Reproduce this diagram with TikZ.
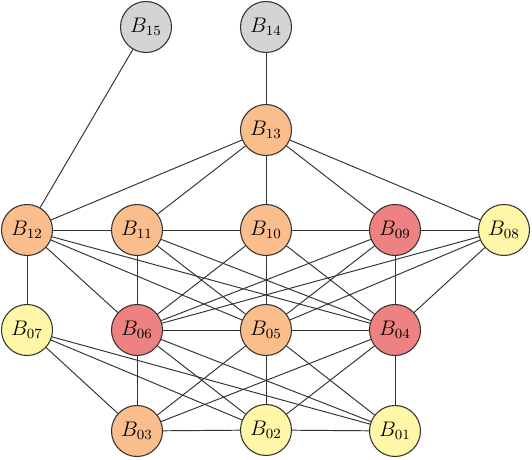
\documentclass[tikz,border=0pt]{standalone}
\usepackage{amsmath}
\usepackage{xcolor}
\usepackage{tikz}

\definecolor{peach}{RGB}{249,190,140}
\definecolor{rose}{RGB}{238,130,130}
\definecolor{cream}{RGB}{255,246,168}
\definecolor{ash}{RGB}{212,212,212}

\begin{document}
\begin{tikzpicture}[
        bus/.style={circle, draw=black!80, line width=0.6pt, minimum size=1.02cm, inner sep=0pt, font=\large},
        link/.style={draw=black!80, line width=0.55pt}
    ]
        \useasboundingbox (0,0) rectangle (10.64,9.2);

        \node[bus, fill=ash] (b15) at (2.92,8.66) {$B_{15}$};
        \node[bus, fill=ash] (b14) at (5.32,8.66) {$B_{14}$};

        \node[bus, fill=peach] (b13) at (5.32,6.6) {$B_{13}$};

        \node[bus, fill=peach] (b12) at (0.54,4.6) {$B_{12}$};
        \node[bus, fill=peach] (b11) at (2.74,4.6) {$B_{11}$};
        \node[bus, fill=peach] (b10) at (5.32,4.6) {$B_{10}$};
        \node[bus, fill=rose] (b09) at (7.9,4.6) {$B_{09}$};
        \node[bus, fill=cream] (b08) at (10.08,4.6) {$B_{08}$};

        \node[bus, fill=cream] (b07) at (0.54,2.6) {$B_{07}$};
        \node[bus, fill=rose] (b06) at (2.74,2.6) {$B_{06}$};
        \node[bus, fill=peach] (b05) at (5.32,2.6) {$B_{05}$};
        \node[bus, fill=rose] (b04) at (7.9,2.6) {$B_{04}$};

        \node[bus, fill=peach] (b03) at (2.74,0.58) {$B_{03}$};
        \node[bus, fill=cream] (b02) at (5.32,0.6) {$B_{02}$};
        \node[bus, fill=cream] (b01) at (7.9,0.58) {$B_{01}$};

        % top
        \draw[link] (b15) -- (b12);
        \draw[link] (b14) -- (b13);
        \draw[link] (b13) -- (b12);
        \draw[link] (b13) -- (b11);
        \draw[link] (b13) -- (b10);
        \draw[link] (b13) -- (b09);
        \draw[link] (b13) -- (b08);

        % second row
        \draw[link] (b12) -- (b11);
        \draw[link] (b11) -- (b10);
        \draw[link] (b10) -- (b09);
        \draw[link] (b09) -- (b08);

        \draw[link] (b12) -- (b07);
        \draw[link] (b12) -- (b06);
        \draw[link] (b12) -- (b05);
        \draw[link] (b12) -- (b04);
        \draw[link] (b11) -- (b06);
        \draw[link] (b11) -- (b05);
        \draw[link] (b11) -- (b04);
        \draw[link] (b10) -- (b06);
        \draw[link] (b10) -- (b05);
        \draw[link] (b10) -- (b04);
        \draw[link] (b09) -- (b06);
        \draw[link] (b09) -- (b05);
        \draw[link] (b09) -- (b04);
        \draw[link] (b08) -- (b06);
        \draw[link] (b08) -- (b05);
        \draw[link] (b08) -- (b04);

        % third row
        \draw[link] (b06) -- (b05);
        \draw[link] (b05) -- (b04);

        \draw[link] (b07) -- (b03);
        \draw[link] (b07) -- (b02);
        \draw[link] (b07) -- (b01);
        \draw[link] (b06) -- (b03);
        \draw[link] (b06) -- (b02);
        \draw[link] (b06) -- (b01);
        \draw[link] (b05) -- (b03);
        \draw[link] (b05) -- (b02);
        \draw[link] (b05) -- (b01);
        \draw[link] (b04) -- (b03);
        \draw[link] (b04) -- (b02);
        \draw[link] (b04) -- (b01);

        % bottom
        \draw[link] (b03) -- (b02);
        \draw[link] (b02) -- (b01);
    \end{tikzpicture}
\end{document}
